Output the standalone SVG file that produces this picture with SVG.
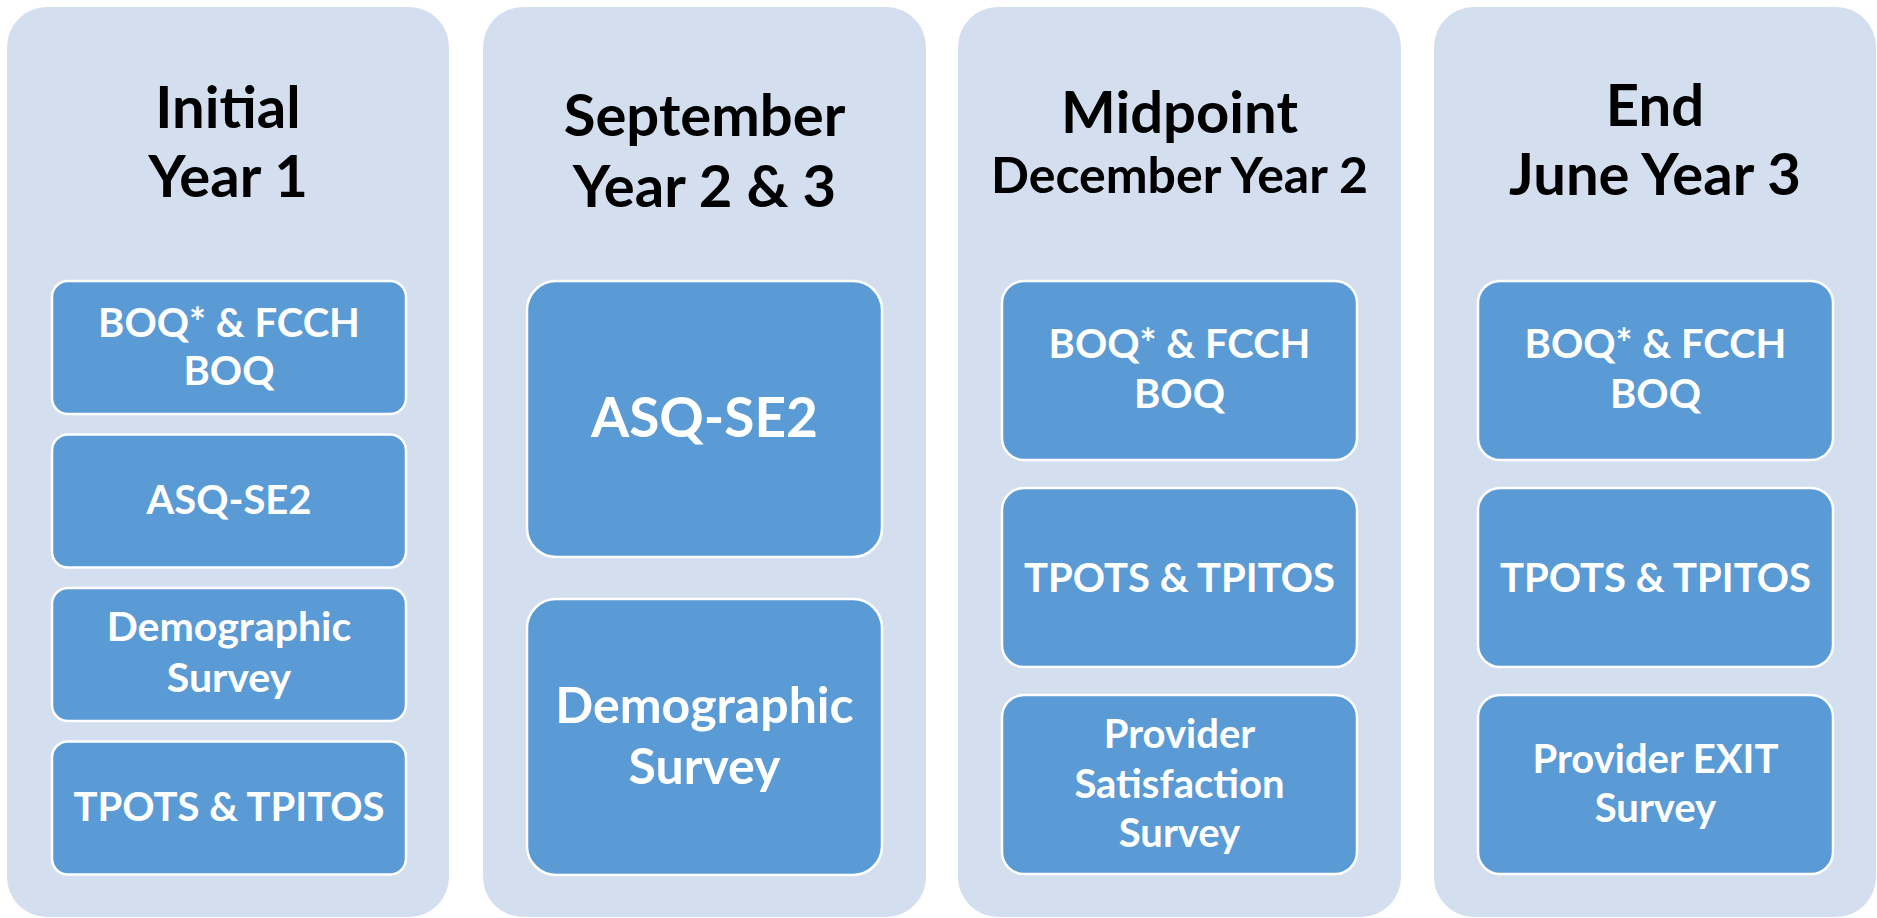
<svg xmlns="http://www.w3.org/2000/svg" width="1877" height="918" viewBox="0 0 1877 918">
<style>
.col{fill:#D3DEEF;}
.box{fill:#5B9BD5;stroke:#FFFFFF;stroke-width:2.5;}
.t{font-family:Lato,"Open Sans","Liberation Sans",sans-serif;font-weight:700;text-anchor:middle;fill:#000000;}
.b{font-family:Lato,"Open Sans","Liberation Sans",sans-serif;font-weight:700;text-anchor:middle;fill:#FFFFFF;}
</style>
<rect width="1877" height="918" fill="#FFFFFF"/>
<g id="connectors"></g>

<g id="col-initial">
<rect class="col" x="7" y="7" width="442" height="910" rx="40"/>
<text class="t" x="228" font-size="58"><tspan x="228" y="128">Initial</tspan><tspan x="228" y="197">Year 1</tspan></text>
</g>
<g id="n-initial-boq">
<rect class="box" x="52" y="281" width="354" height="133" rx="16"/>
<text class="b" font-size="40"><tspan x="229" y="337">BOQ* &amp; FCCH</tspan><tspan x="229" y="385">BOQ</tspan></text>
</g>
<g id="n-initial-asq">
<rect class="box" x="52" y="434.5" width="354" height="133" rx="16"/>
<text class="b" font-size="40" x="229" y="514">ASQ-SE2</text>
</g>
<g id="n-initial-demo">
<rect class="box" x="52" y="588" width="354" height="133" rx="16"/>
<text class="b" font-size="41"><tspan x="229" y="641">Demographic</tspan><tspan x="229" y="692">Survey</tspan></text>
</g>
<g id="n-initial-tpots">
<rect class="box" x="52" y="741.5" width="354" height="133" rx="16"/>
<text class="b" font-size="40" x="229" y="821">TPOTS &amp; TPITOS</text>
</g>

<g id="col-september">
<rect class="col" x="483" y="7" width="443" height="910" rx="40"/>
<text class="t" font-size="58"><tspan x="704.5" y="136">September</tspan><tspan x="704.5" y="207">Year 2 &amp; 3</tspan></text>
</g>
<g id="n-sept-asq">
<rect class="box" x="527" y="281" width="355" height="276" rx="29"/>
<text class="b" font-size="55" x="704.5" y="437">ASQ-SE2</text>
</g>
<g id="n-sept-demo">
<rect class="box" x="527" y="599" width="355" height="276" rx="29"/>
<text class="b" font-size="50"><tspan x="704.5" y="723">Demographic</tspan><tspan x="704.5" y="784">Survey</tspan></text>
</g>

<g id="col-midpoint">
<rect class="col" x="958" y="7" width="443" height="910" rx="40"/>
<text class="t"><tspan x="1179.5" y="133" font-size="58">Midpoint</tspan><tspan x="1179.5" y="193" font-size="50">December Year 2</tspan></text>
</g>
<g id="n-mid-boq">
<rect class="box" x="1002" y="281" width="355" height="179" rx="22"/>
<text class="b" font-size="40"><tspan x="1179.5" y="358">BOQ* &amp; FCCH</tspan><tspan x="1179.5" y="408">BOQ</tspan></text>
</g>
<g id="n-mid-tpots">
<rect class="box" x="1002" y="488" width="355" height="179" rx="22"/>
<text class="b" font-size="40" x="1179.5" y="592">TPOTS &amp; TPITOS</text>
</g>
<g id="n-mid-sat">
<rect class="box" x="1002" y="695" width="355" height="179" rx="22"/>
<text class="b" font-size="40"><tspan x="1179.5" y="748">Provider</tspan><tspan x="1179.5" y="798">Satisfaction</tspan><tspan x="1179.5" y="847">Survey</tspan></text>
</g>

<g id="col-end">
<rect class="col" x="1434" y="7" width="442" height="910" rx="40"/>
<text class="t" font-size="58"><tspan x="1655" y="126">End</tspan><tspan x="1655" y="195">June Year 3</tspan></text>
</g>
<g id="n-end-boq">
<rect class="box" x="1478" y="281" width="355" height="179" rx="22"/>
<text class="b" font-size="40"><tspan x="1655.5" y="358">BOQ* &amp; FCCH</tspan><tspan x="1655.5" y="408">BOQ</tspan></text>
</g>
<g id="n-end-tpots">
<rect class="box" x="1478" y="488" width="355" height="179" rx="22"/>
<text class="b" font-size="40" x="1655.5" y="592">TPOTS &amp; TPITOS</text>
</g>
<g id="n-end-exit">
<rect class="box" x="1478" y="695" width="355" height="179" rx="22"/>
<text class="b" font-size="40"><tspan x="1655.5" y="773">Provider EXIT</tspan><tspan x="1655.5" y="822">Survey</tspan></text>
</g>
</svg>
